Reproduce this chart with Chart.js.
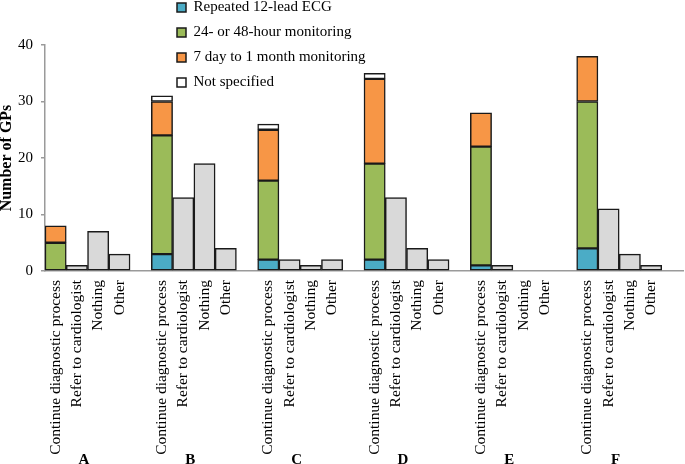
<!DOCTYPE html>
<html>
<head>
<meta charset="utf-8">
<script src="https://cdn.jsdelivr.net/npm/chart.js@4"></script>
<style>
  body { margin: 0; background: #fff; }
</style>
</head>
<body>
<canvas id="myChart" width="685" height="464"></canvas>
<script>
// groups and the answers under each one
var groups  = ['A', 'B', 'C', 'D', 'E', 'F'];
var actions = ['Continue diagnostic process', 'Refer to cardiologist', 'Nothing', 'Other'];

// "Continue diagnostic process" split by the kind of test
var repeatedEcg    = [0, 3, 2, 2, 1, 4];
var monitor24to48h = [5, 21, 14, 17, 21, 26];
var monitor7dTo1m  = [3, 6, 9, 15, 6, 8];
var notSpecified   = [0, 1, 1, 1, 0, 0];

// the other answers
var referCardio = [1, 13, 2, 13, 1, 11];
var nothing     = [7, 19, 1, 4, 0, 3];
var other       = [3, 4, 2, 2, 0, 1];

var yTicks = [0, 10, 20, 30, 40];

var serif = 'Liberation Serif';

// each group: 4 answers then one empty slot
var labels = [];
groups.forEach(function () {
    labels = labels.concat(actions, ['']);
});

function inSlot(values, slot) {
    var out = [];
    values.forEach(function (v) {
        for (var k = 0; k < 5; k++) out.push(k === slot ? (v || null) : null);
    });
    return out;
}

var greyData = [];
groups.forEach(function (g, i) {
    greyData.push(null, referCardio[i] || null, nothing[i] || null, other[i] || null, null);
});

var edge = '#1a1a1a';
function bars(label, data, color) {
    return {
        label: label,
        data: data,
        backgroundColor: color,
        borderColor: edge,
        borderWidth: 1.5,
        borderSkipped: false,
        categoryPercentage: 1,
        barPercentage: 1
    };
}

// put legend on top of the plot, like the original
var legendSpot = {
    id: 'legendSpot',
    afterLayout: function (chart) {
        chart.legend.left = 167;
        chart.legend.top = -10;
    }
};

var groupLetters = {
    id: 'groupLetters',
    afterDraw: function (chart) {
        var ctx = chart.ctx;
        var x = chart.scales.x;
        ctx.save();
        ctx.font = 'bold 15px "' + serif + '"';
        ctx.fillStyle = '#000';
        ctx.textAlign = 'center';
        ctx.textBaseline = 'middle';
        groups.forEach(function (g, i) {
            ctx.fillText(g, x.getPixelForValue(i * 5 + 1) + 7, chart.height - 4);
        });
        ctx.restore();
    }
};

var ctx = document.getElementById('myChart').getContext('2d');
var myChart = new Chart(ctx, {
    type: 'bar',
    data: {
        labels: labels,
        datasets: [
            bars('Repeated 12-lead ECG', inSlot(repeatedEcg, 0), '#4bacc6'),
            bars('24- or 48-hour monitoring', inSlot(monitor24to48h, 0), '#9bbb59'),
            bars('7 day to 1 month monitoring', inSlot(monitor7dTo1m, 0), '#f79646'),
            bars('Not specified', inSlot(notSpecified, 0), '#ffffff'),
            bars('other answers', greyData, '#d9d9d9')
        ]
    },
    options: {
        responsive: false,
        animation: false,
        layout: { padding: { top: 45, right: 2, left: 0, bottom: 0 } },
        scales: {
            x: {
                stacked: true,
                grid: { display: false, drawTicks: false },
                border: { color: '#9a9a9a', width: 1.5 },
                ticks: {
                    autoSkip: false,
                    minRotation: 90,
                    maxRotation: 90,
                    padding: 9,
                    color: '#000',
                    font: { family: serif, size: 15.5 }
                },
                afterFit: function (scale) {
                    scale.height = 193;
                    scale.paddingLeft = 0;
                    scale.paddingRight = 0;
                }
            },
            y: {
                stacked: true,
                min: 0,
                max: 40,
                afterBuildTicks: function (scale) {
                    scale.ticks = yTicks.map(function (v) { return { value: v }; });
                },
                grid: { drawOnChartArea: false, tickLength: 4, color: '#9a9a9a', lineWidth: 1.5 },
                border: { color: '#9a9a9a', width: 1.5 },
                ticks: { padding: 8, color: '#000', font: { family: serif, size: 15 } },
                title: {
                    display: true,
                    text: 'Number of GPs',
                    color: '#000',
                    padding: { top: -1, bottom: 0 },
                    font: { family: serif, size: 16, weight: 'bold', lineHeight: 1 }
                },
                afterFit: function (scale) { scale.width = 45; }
            }
        },
        plugins: {
            legend: {
                position: 'chartArea',
                align: 'start',
                labels: {
                    boxWidth: 9,
                    boxHeight: 9,
                    padding: 10,
                    color: '#000',
                    font: { family: serif, size: 15 },
                    filter: function (item) { return item.datasetIndex < 4; }
                }
            },
            tooltip: { enabled: false }
        }
    },
    plugins: [legendSpot, groupLetters]
});
</script>
</body>
</html>
